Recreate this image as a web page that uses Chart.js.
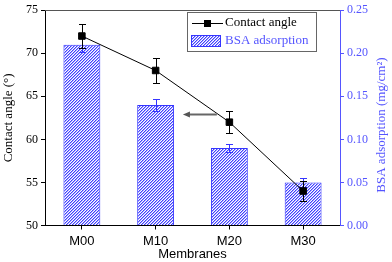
<!DOCTYPE html>
<html>
<head>
<meta charset="utf-8">
<script src="https://cdn.jsdelivr.net/npm/chart.js@4.4.0/dist/chart.umd.min.js"></script>
<style>
  html, body { margin: 0; padding: 0; background: #fff; }
  #wrap { width: 392px; height: 262px; }
</style>
</head>
<body>
<div id="wrap"><canvas id="chart" width="392" height="262"></canvas></div>
<script>
// data
const membranes = ['M00', 'M10', 'M20', 'M30'];
const contactAngle = [72, 68, 62, 54];
const contactAngleErr = [1.4, 1.4, 1.3, 1.2];
const bsaAdsorption = [0.21, 0.14, 0.09, 0.05];
const bsaErr = [0.008, 0.007, 0.005, 0.005];
const angleRange = [50, 75, 5];      // min, max, step
const bsaRange = [0, 0.25, 0.05];

const BLUE = '#5555ff';
const BAR_BLUE = '#3535ff';
const SERIF = '"Liberation Serif", "Times New Roman", serif';
const SANS = '"Liberation Sans", Arial, sans-serif';

// hatched fill for the bars: fine blue diagonal every 3px
function makeHatch() {
    const c = document.createElement('canvas');
    c.width = 3;
    c.height = 3;
    const g = c.getContext('2d');
    g.fillStyle = '#fff';
    g.fillRect(0, 0, 3, 3);
    for (let i = 0; i < 3; i++) {
        g.fillStyle = '#4040ff';
        g.fillRect(i, 2 - i, 1, 1);
        g.fillStyle = '#a8a8ff';
        g.fillRect(i, (3 - i) % 3, 1, 1);
    }
    return g.createPattern(c, 'repeat');
}
const hatch = makeHatch();

// vertical error bars drawn right after each dataset
const errorBars = {
    id: 'errorBars',
    afterDatasetDraw(chart, args) {
        const ds = chart.data.datasets[args.index];
        if (!ds.errors) return;
        const meta = args.meta;
        const yScale = chart.scales[meta.yAxisID];
        const ctx = chart.ctx;
        ctx.save();
        ctx.strokeStyle = ds.errorColor;
        ctx.lineWidth = 1;
        meta.data.forEach((el, i) => {
            const x = Math.round(el.x) + 0.5;
            const top = Math.round(yScale.getPixelForValue(ds.data[i] + ds.errors[i])) + 0.5;
            const bot = Math.round(yScale.getPixelForValue(ds.data[i] - ds.errors[i])) + 0.5;
            ctx.beginPath();
            ctx.moveTo(x, top); ctx.lineTo(x, bot);
            ctx.moveTo(x - 3.5, top); ctx.lineTo(x + 3.5, top);
            ctx.moveTo(x - 3.5, bot); ctx.lineTo(x + 3.5, bot);
            ctx.stroke();
        });
        ctx.restore();
    }
};

// top frame line, arrow, legend box and right axis title
const extras = {
    id: 'extras',
    afterDraw(chart) {
        const ctx = chart.ctx;
        const area = chart.chartArea;
        const x = chart.scales.x;
        const y = chart.scales.y;
        ctx.save();

        // top border
        ctx.strokeStyle = '#555';
        ctx.lineWidth = 1;
        ctx.beginPath();
        ctx.moveTo(area.left, Math.round(area.top) + 0.5);
        ctx.lineTo(area.right, Math.round(area.top) + 0.5);
        ctx.stroke();

        // arrow pointing the line to the left axis
        const ay = Math.round(y.getPixelForValue(63)) + 0.5;
        const ax0 = x.getPixelForValue(1.83);
        const ax1 = x.getPixelForValue(1.37);
        ctx.strokeStyle = '#666';
        ctx.fillStyle = '#555';
        ctx.lineWidth = 2;
        ctx.beginPath();
        ctx.moveTo(ax0, ay); ctx.lineTo(ax1 + 5, ay);
        ctx.stroke();
        ctx.beginPath();
        ctx.moveTo(ax1, ay);
        ctx.lineTo(ax1 + 7, ay - 3);
        ctx.lineTo(ax1 + 7, ay + 3);
        ctx.closePath();
        ctx.fill();

        // legend
        const lx = 187, ly = 12, lw = 129, lh = 39;
        ctx.fillStyle = '#fff';
        ctx.fillRect(lx, ly, lw, lh);
        ctx.strokeStyle = '#666';
        ctx.lineWidth = 1;
        ctx.strokeRect(lx + 0.5, ly + 0.5, lw, lh);

        ctx.strokeStyle = '#000';
        ctx.beginPath();
        ctx.moveTo(lx + 5, ly + 11.5); ctx.lineTo(lx + 36, ly + 11.5);
        ctx.stroke();
        ctx.fillStyle = '#000';
        ctx.fillRect(lx + 17, ly + 8, 7, 7);

        ctx.fillStyle = hatch;
        ctx.fillRect(lx + 4, ly + 23, 30, 12);
        ctx.strokeStyle = BAR_BLUE;
        ctx.strokeRect(lx + 4.5, ly + 23.5, 29, 11);

        ctx.font = '13px ' + SERIF;
        ctx.textBaseline = 'middle';
        ctx.textAlign = 'left';
        ctx.fillStyle = '#000';
        ctx.fillText('Contact angle', lx + 38, ly + 11);
        ctx.fillStyle = BLUE;
        ctx.fillText('BSA adsorption', lx + 38, ly + 29);

        // right axis title, reading bottom to top
        ctx.translate(382, 125);
        ctx.rotate(-Math.PI / 2);
        ctx.textAlign = 'center';
        ctx.fillStyle = BLUE;
        ctx.fillText('BSA adsorption (mg/cm²)', 0, 0);
        ctx.restore();
    }
};

new Chart(document.getElementById('chart'), {
    type: 'bar',
    data: {
        labels: membranes,
        datasets: [{
            type: 'line',
            label: 'Contact angle',
            data: contactAngle,
            errors: contactAngleErr,
            errorColor: '#000',
            yAxisID: 'y',
            borderColor: '#000',
            borderWidth: 1,
            pointStyle: 'rect',
            pointRadius: 4.6,
            pointBackgroundColor: '#000',
            pointBorderColor: '#000',
            tension: 0,
            order: 0
        }, {
            label: 'BSA adsorption',
            data: bsaAdsorption,
            errors: bsaErr,
            errorColor: BAR_BLUE,
            yAxisID: 'y1',
            backgroundColor: hatch,
            borderColor: BAR_BLUE,
            borderWidth: 1,
            barPercentage: 0.5,
            categoryPercentage: 1,
            order: 1
        }]
    },
    options: {
        responsive: false,
        animation: false,
        layout: { padding: { top: 7, left: 0, right: 0, bottom: 0 } },
        plugins: {
            legend: { display: false },
            tooltip: { enabled: false }
        },
        scales: {
            x: {
                afterFit: s => { s.height = 36.5; },
                grid: { drawOnChartArea: false, offset: false, tickLength: 4, color: '#000' },
                border: { color: '#000', width: 1 },
                ticks: { color: '#000', padding: 4, font: { family: SANS, size: 13 } },
                title: {
                    display: true, text: 'Membranes', color: '#000',
                    font: { family: SANS, size: 13 }, padding: { top: 0, bottom: 0 }
                }
            },
            y: {
                position: 'left',
                min: angleRange[0], max: angleRange[1],
                afterFit: s => { s.width = 45; },
                grid: { drawOnChartArea: false, tickLength: 4, color: '#000' },
                border: { color: '#000', width: 1 },
                ticks: { stepSize: angleRange[2], color: '#000', padding: 3, font: { family: SERIF, size: 12 } },
                title: {
                    display: true, text: 'Contact angle (°)', color: '#000',
                    font: { family: SERIF, size: 13 }, padding: { top: 1, bottom: 0 }
                }
            },
            y1: {
                position: 'right',
                min: bsaRange[0], max: bsaRange[1],
                afterFit: s => { s.width = 52; },
                grid: { drawOnChartArea: false, tickLength: 4, color: BLUE },
                border: { color: BLUE, width: 1 },
                ticks: {
                    stepSize: bsaRange[2], color: BLUE, padding: 3,
                    font: { family: SERIF, size: 12 },
                    callback: v => v.toFixed(2)
                }
            }
        }
    },
    plugins: [errorBars, extras]
});
</script>
</body>
</html>
